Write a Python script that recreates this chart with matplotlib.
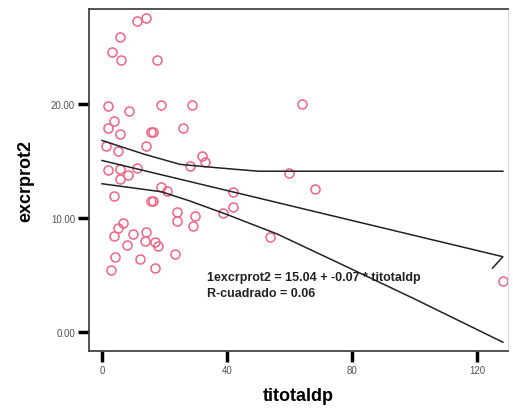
import matplotlib
matplotlib.use("Agg")
import matplotlib.pyplot as plt

# scatter values
titotaldp = [11.2, 14.1, 5.8, 3.2, 6.1, 17.6, 1.9, 8.6, 18.9, 28.8, 64.0,
             3.8, 1.9, 5.8, 15.8, 16.2, 25.9, 1.3, 5.1, 14.1, 32.0, 33.0,
             28.2, 1.9, 5.8, 8.3, 11.2, 5.8, 59.8, 18.9, 20.8, 68.2, 3.8,
             15.6, 16.3, 41.9, 41.9, 38.7, 24.0, 24.0, 29.8, 29.1, 6.7, 5.1,
             3.8, 9.9, 14.1, 8.0, 13.8, 17.0, 17.9, 23.4, 4.2, 12.2, 2.9,
             17.0, 53.8, 128.3]
excrprot2 = [27.3, 27.5, 25.9, 24.6, 23.9, 23.9, 19.8, 19.4, 19.9, 19.9, 20.0,
             18.5, 17.9, 17.4, 17.5, 17.5, 17.9, 16.3, 15.9, 16.3, 15.4, 14.9,
             14.6, 14.2, 14.3, 13.8, 14.4, 13.4, 13.9, 12.7, 12.4, 12.5, 11.9,
             11.5, 11.5, 12.3, 11.0, 10.4, 10.5, 9.7, 10.2, 9.3, 9.6, 9.1,
             8.4, 8.6, 8.8, 7.6, 8.0, 7.9, 7.5, 6.8, 6.6, 6.4, 5.4,
             5.6, 8.3, 4.5]

# fit line (with the small hook at the end) and confidence band
fit_x = [0, 128.3, 125.0]
fit_y = [15.04, 6.6, 5.6]
upper_x = [0, 13.4, 25, 37, 50, 64, 128.3]
upper_y = [16.8, 15.6, 14.7, 14.4, 14.1, 14.1, 14.1]
lower_x = [0, 19, 28, 40, 56, 80, 100, 128.3]
lower_y = [13.0, 12.3, 11.5, 10.3, 8.6, 5.5, 2.9, -0.9]

xticks = [0, 40, 80, 120]
yticks = [0, 10, 20]
ytick_labels = ["0.00", "10.00", "20.00"]

PINK = "#f06585"
plt.rcParams["font.family"] = ["Liberation Sans", "DejaVu Sans"]

fig = plt.figure(figsize=(5.13, 4.10), dpi=100, facecolor="white")
ax = fig.add_axes([0.1735, 0.1415, 0.8165, 0.8341])

ax.plot(titotaldp, excrprot2, linestyle="none", marker="o", markersize=6.5,
        markerfacecolor="none", markeredgecolor=PINK, markeredgewidth=1.1)
ax.plot(fit_x, fit_y, color="#222222", linewidth=1.1)
ax.plot(upper_x, upper_y, color="#222222", linewidth=1.1)
ax.plot(lower_x, lower_y, color="#222222", linewidth=1.1)

ax.text(33.5, 4.8, "1excrprot2 = 15.04 + -0.07 * titotaldp",
        fontsize=9, fontweight="bold", color="#222222", va="center")
ax.text(33.5, 3.4, "R-cuadrado = 0.06",
        fontsize=9, fontweight="bold", color="#222222", va="center")

ax.set_xlim(-4.16, 129.9)
ax.set_ylim(-1.67, 28.33)
ax.set_xticks(xticks)
ax.set_xticklabels([str(t) for t in xticks])
ax.set_yticks(yticks)
ax.set_yticklabels(ytick_labels)
ax.tick_params(axis="both", direction="out", length=8, width=2.5,
               color="black", labelsize=7, labelcolor="#555555", pad=2)

for side in ["top", "left", "bottom"]:
    ax.spines[side].set_color("#444444")
    ax.spines[side].set_linewidth(1.3)
ax.spines["right"].set_color("#dddddd")
ax.spines["right"].set_linewidth(0.8)

ax.set_xlabel("titotaldp", fontsize=13, fontweight="bold", labelpad=9)
ax.set_ylabel("excrprot2", fontsize=13, fontweight="bold", labelpad=12)

fig.savefig("out.png", dpi=100, facecolor="white")
